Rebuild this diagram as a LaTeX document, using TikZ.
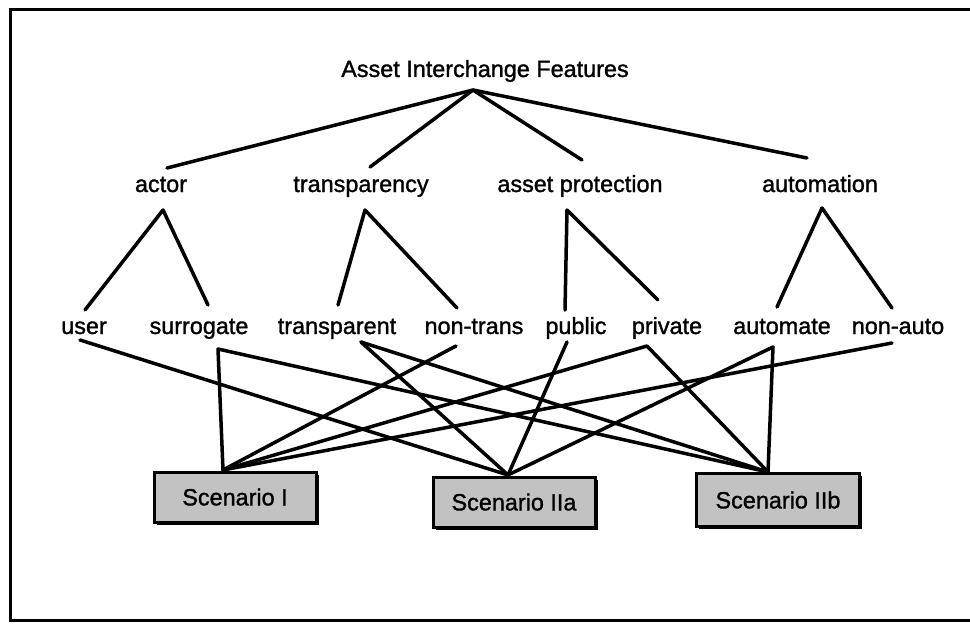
\documentclass[tikz,border=0pt]{standalone}
\usepackage{fontspec}
\setmainfont{Liberation Sans}[FakeBold=1.3]
\usetikzlibrary{shadows}
\begin{document}
\begin{tikzpicture}[x=1pt,y=-1pt,
  lbl/.style={inner sep=0pt, anchor=base, font=\fontsize{23.4}{28}\selectfont},
  link/.style={line width=3.5pt, line cap=round, line join=round},
  frame/.style={line width=3pt},
  scen/.style={draw, line width=3pt, fill=black!24, inner sep=0pt,
    minimum width=162pt, minimum height=50pt,
    font=\fontsize{23.4}{28}\selectfont,
    drop shadow={shadow xshift=2.5pt, shadow yshift=-2.5pt, fill=black, opacity=1}}]
\useasboundingbox (0,0) rectangle (970,626);

% outer frame (open on the right)
\draw[frame] (975,10) -- (10,10) -- (10,620) -- (975,620);

% labels
\node[lbl] (title) at (485,77) {Asset Interchange Features};
\node[lbl] (actor) at (161,192) {actor};
\node[lbl] (transp) at (361,192) {transparency};
\node[lbl] (prot) at (580,192) {asset protection};
\node[lbl] (autom) at (820,192) {automation};

\node[lbl] (user) at (84,334) {user};
\node[lbl] (surr) at (199,334) {surrogate};
\node[lbl] (trans) at (337,334) {transparent};
\node[lbl] (ntrans) at (474,334) {non-trans};
\node[lbl] (public) at (576,334) {public};
\node[lbl] (private) at (667,334) {private};
\node[lbl] (automate) at (782,334) {automate};
\node[lbl] (nauto) at (898,334) {non-auto};

% scenario boxes
\node[scen] (sI) at (235,497) {Scenario I};
\node[scen] (sIIa) at (514,502) {Scenario IIa};
\node[scen, minimum width=163pt, minimum height=53pt] (sIIb) at (778,500) {Scenario IIb};

% connection points
\coordinate (apex) at (473,90);
\coordinate (actor-up) at (167,168);
\coordinate (transp-up) at (370,167);
\coordinate (prot-up) at (582,160);
\coordinate (autom-up) at (807,158);
\coordinate (actor-dn) at (163,210);
\coordinate (transp-dn) at (365,210);
\coordinate (prot-dn) at (567,210);
\coordinate (autom-dn) at (822,208);

\coordinate (user-up) at (85,310);
\coordinate (surr-up) at (208,305);
\coordinate (trans-up) at (338,305);
\coordinate (ntrans-up) at (457,308);
\coordinate (public-up) at (565,310);
\coordinate (private-up) at (658,300);
\coordinate (automate-up) at (777,307);
\coordinate (nauto-up) at (892,308);

\coordinate (user-dn) at (80,340);
\coordinate (surr-dn) at (218,349);
\coordinate (trans-dn) at (361,342);
\coordinate (ntrans-dn) at (456,346);
\coordinate (public-dn) at (567,342);
\coordinate (private-dn) at (647,346);
\coordinate (automate-dn) at (773,347);
\coordinate (nauto-dn) at (892,343);

\coordinate (sI-in) at (223,470);
\coordinate (sIIa-in) at (508,475);
\coordinate (sIIb-in) at (768,472);

% feature tree
\draw[link] (actor-up) -- (apex) -- (autom-up);
\draw[link] (transp-up) -- (apex) -- (prot-up);
\draw[link] (user-up) -- (actor-dn) -- (surr-up);
\draw[link] (trans-up) -- (transp-dn) -- (ntrans-up);
\draw[link] (public-up) -- (prot-dn) -- (private-up);
\draw[link] (automate-up) -- (autom-dn) -- (nauto-up);

% scenario I: surrogate, non-trans, private, non-auto
\draw[link] (surr-dn) -- (sI-in);
\draw[link] (ntrans-dn) -- (sI-in);
\draw[link] (private-dn) -- (sI-in);
\draw[link] (nauto-dn) -- (sI-in);

% scenario IIa: user, transparent, public, automate
\draw[link] (user-dn) -- (sIIa-in);
\draw[link] (trans-dn) -- (sIIa-in);
\draw[link] (public-dn) -- (sIIa-in);
\draw[link] (automate-dn) -- (sIIa-in);

% scenario IIb: surrogate, transparent, private, automate
\draw[link] (surr-dn) -- (sIIb-in);
\draw[link] (trans-dn) -- (sIIb-in);
\draw[link] (private-dn) -- (sIIb-in);
\draw[link] (automate-dn) -- (sIIb-in);
\end{tikzpicture}
\end{document}
